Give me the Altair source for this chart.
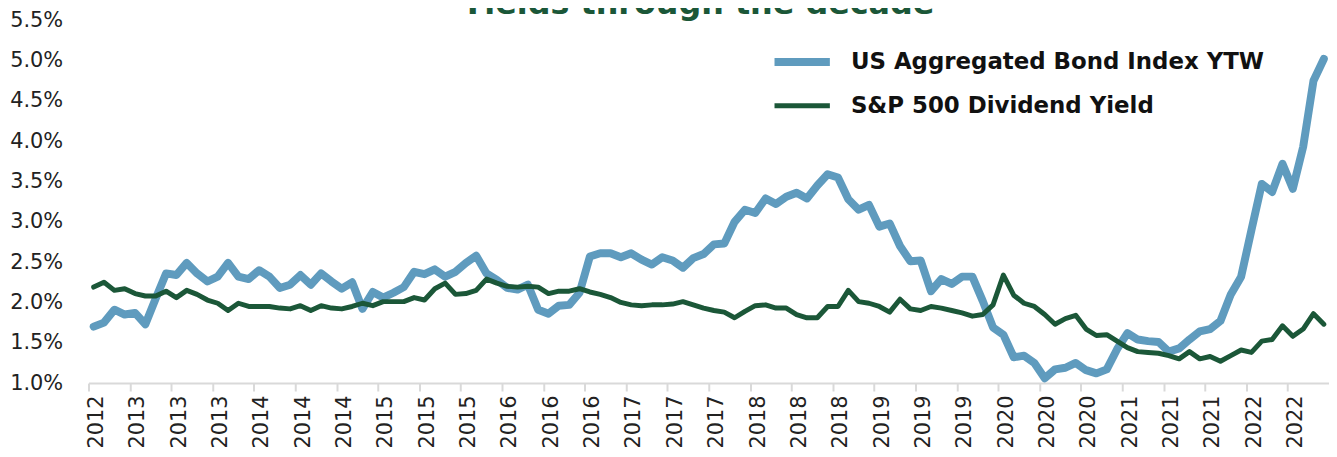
import altair as alt
import pandas as pd

TITLE = "Yields through the decade"
SERIES_AGG = "US Aggregated Bond Index YTW"
SERIES_SPX = "S&P 500 Dividend Yield"

# Monthly observations, Nov 2012 .. Oct 2022 (percent)
agg_ytw = [
    1.70, 1.75, 1.91, 1.85, 1.87, 1.73, 2.05, 2.36, 2.34, 2.49,
    2.36, 2.26, 2.32, 2.49, 2.32, 2.29, 2.40, 2.32, 2.18, 2.22,
    2.34, 2.22, 2.36, 2.26, 2.17, 2.25, 1.92, 2.13, 2.06, 2.12,
    2.19, 2.38, 2.35, 2.41, 2.32, 2.38, 2.49, 2.58, 2.36, 2.28,
    2.18, 2.16, 2.22, 1.91, 1.86, 1.96, 1.97, 2.12, 2.57, 2.61,
    2.61, 2.56, 2.61, 2.53, 2.47, 2.56, 2.52, 2.43, 2.55, 2.60,
    2.72, 2.73, 3.00, 3.15, 3.11, 3.29, 3.22, 3.31, 3.36, 3.29,
    3.45, 3.59, 3.55, 3.28, 3.15, 3.21, 2.94, 2.98, 2.70, 2.51,
    2.52, 2.14, 2.29, 2.23, 2.32, 2.32, 2.02, 1.69, 1.60, 1.32,
    1.34, 1.25, 1.06, 1.17, 1.19, 1.25, 1.16, 1.12, 1.17, 1.42,
    1.62, 1.54, 1.52, 1.51, 1.39, 1.43, 1.54, 1.64, 1.67, 1.77,
    2.10, 2.32, 2.90, 3.47, 3.37, 3.72, 3.41, 3.93, 4.75, 5.02,
]
spx_div = [
    2.19, 2.25, 2.15, 2.17, 2.11, 2.08, 2.08, 2.14, 2.06, 2.15,
    2.10, 2.03, 1.99, 1.90, 1.99, 1.95, 1.95, 1.95, 1.93, 1.92,
    1.96, 1.90, 1.96, 1.93, 1.92, 1.95, 1.99, 1.96, 2.01, 2.01,
    2.01, 2.06, 2.03, 2.17, 2.24, 2.10, 2.11, 2.15, 2.29, 2.24,
    2.20, 2.19, 2.20, 2.19, 2.11, 2.14, 2.14, 2.17, 2.13, 2.10,
    2.06, 2.00, 1.97, 1.96, 1.97, 1.97, 1.98, 2.01, 1.97, 1.93,
    1.90, 1.88, 1.81, 1.89, 1.96, 1.97, 1.93, 1.93, 1.85, 1.81,
    1.81, 1.95, 1.95, 2.15, 2.01, 1.99, 1.95, 1.88, 2.04, 1.92,
    1.90, 1.95, 1.93, 1.90, 1.87, 1.83, 1.85, 1.97, 2.34, 2.09,
    1.99, 1.95, 1.85, 1.73, 1.80, 1.84, 1.67, 1.59, 1.60, 1.52,
    1.44, 1.39, 1.38, 1.37, 1.34, 1.30, 1.39, 1.30, 1.33, 1.27,
    1.34, 1.41, 1.38, 1.52, 1.54, 1.71, 1.58, 1.67, 1.86, 1.73,
]
# Category-axis labels, one every 4th month
tick_labels = [
    "2012", "2013", "2013", "2013", "2014", "2014", "2014", "2015", "2015", "2015",
    "2016", "2016", "2016", "2017", "2017", "2017", "2018", "2018", "2018", "2019",
    "2019", "2019", "2020", "2020", "2020", "2021", "2021", "2021", "2022", "2022",
]
y_ticks = [1.0, 1.5, 2.0, 2.5, 3.0, 3.5, 4.0, 4.5, 5.0, 5.5]

n = len(agg_ytw)
months = pd.date_range("2012-11-01", periods=n, freq="MS")
slot = list(range(n))

df = pd.DataFrame({
    "month": list(months) * 2,
    "slot": slot * 2,
    "value": agg_ytw + spx_div,
    "series": [SERIES_AGG] * n + [SERIES_SPX] * n,
})

FONT = "DejaVu Sans"
BLUE = "#5f9bbe"
GREEN = "#1b5738"
order = [SERIES_AGG, SERIES_SPX]

label_expr = "[" + ",".join("'%s'" % t for t in tick_labels) + "][round(datum.value / 4)]"

x_enc = alt.X(
    "pos:Q",
    scale=alt.Scale(domain=[0, n], nice=False, zero=False),
    axis=alt.Axis(
        values=[4 * k for k in range(len(tick_labels))],
        labelExpr=label_expr,
        title=None, grid=False,
        labelAngle=270, labelFontSize=21, labelFont=FONT, labelColor="#222222",
        labelPadding=4, labelOffset=8,
        domainColor="#d9d9d9", domainWidth=2,
        tickColor="#d9d9d9", tickWidth=2, tickSize=8,
    ),
)
y_enc = alt.Y(
    "value:Q",
    scale=alt.Scale(domain=[1.0, 5.5], nice=False, zero=False),
    axis=alt.Axis(
        values=y_ticks, labelExpr="format(datum.value, '.1f') + '%'",
        title=None, grid=False, domain=False, ticks=False,
        labelFontSize=21, labelFont=FONT, labelColor="#222222", labelPadding=26,
    ),
)

def legend():
    return alt.Legend(
        title=None, orient="none", legendX=686, legendY=30,
        symbolType="stroke", symbolSize=3100, clipHeight=24,
        labelFontSize=23, labelFont=FONT, labelFontWeight="bold",
        labelColor="#111111", labelLimit=800, labelOffset=17, rowPadding=20,
    )

color_enc = alt.Color(
    "series:N", scale=alt.Scale(domain=order, range=[BLUE, GREEN]),
    legend=legend(), sort=order,
)
sw_enc = alt.StrokeWidth(
    "series:N", scale=alt.Scale(domain=order, range=[8, 5]),
    legend=legend(), sort=order,
)

base = alt.Chart(df).transform_calculate(pos="datum.slot + 0.5")

agg_layer = base.transform_filter(alt.datum.series == SERIES_AGG).mark_line(
    strokeJoin="round", strokeCap="round"
).encode(x=x_enc, y=y_enc, color=color_enc, strokeWidth=sw_enc)

spx_layer = base.transform_filter(alt.datum.series == SERIES_SPX).mark_line(
    strokeJoin="round", strokeCap="round"
).encode(x=x_enc, y=y_enc, color=color_enc, strokeWidth=sw_enc)

chart = alt.layer(agg_layer, spx_layer).properties(
    width=1248,
    height=365,
    padding={"left": 81, "top": 11, "right": 0, "bottom": 65},
    autosize=alt.AutoSizeParams(type="none"),
    background="white",
    title=alt.TitleParams(
        TITLE, font=FONT, fontSize=32, fontWeight="bold", color=GREEN,
        anchor="middle", frame="group", baseline="alphabetic", offset=0, dx=-11, dy=37,
    ),
).configure_view(strokeWidth=0, strokeOpacity=0)

chart.save("out.html", embed_options={"renderer": "svg", "actions": False})
